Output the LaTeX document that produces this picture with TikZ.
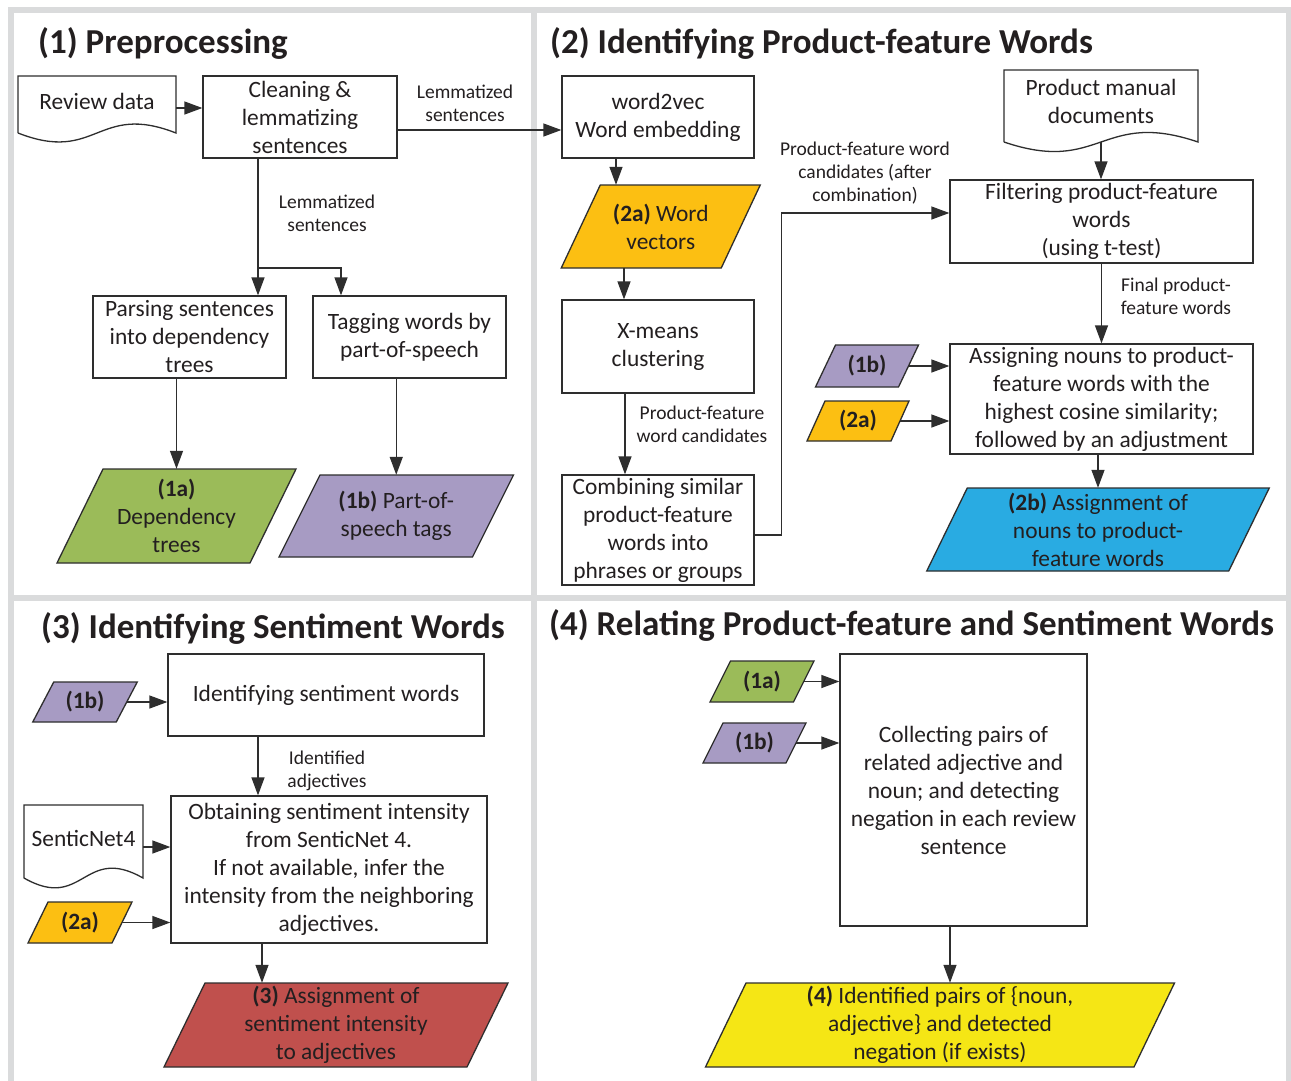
\documentclass[tikz,border=0pt]{standalone}
\usepackage{fontspec}
\setmainfont{Carlito}
\usetikzlibrary{arrows.meta,calc}

\definecolor{txt}{HTML}{231F20}
\definecolor{edge}{HTML}{2E2E2E}
\definecolor{frame}{HTML}{DADBDC}
\definecolor{cgreen}{HTML}{9BBB59}
\definecolor{cpurple}{HTML}{A79BC3}
\definecolor{cgold}{HTML}{FCBF12}
\definecolor{cblue}{HTML}{29ABE2}
\definecolor{cred}{HTML}{C0504D}
\definecolor{cyellow}{HTML}{F5E615}

\tikzset{
  procbox/.style={draw=edge, line width=1.3pt, fill=white, align=center, inner sep=0pt,
    font=\fontsize{23.4}{28}\selectfont, text=txt},
  ptext/.style={align=center, inner sep=0pt, font=\fontsize{23.4}{28}\selectfont, text=txt},
  lbl/.style={align=center, inner sep=0pt, font=\fontsize{19.5}{23}\selectfont, text=txt},
  conn/.style={draw=edge, line width=1.3pt},
  arr/.style={conn, -{Triangle[length=18pt,width=13pt]}},
  panel/.style={draw=frame, line width=6pt},
  ttl/.style={anchor=base west, inner sep=0pt, font=\fontsize{35}{40}\selectfont\bfseries, text=txt},
}

% process box: name, centre x, centre y, width, height, text
\newcommand{\pbox}[6]{%
  \node[procbox, minimum width=#4, minimum height=#5] (#1) at (#2,#3) {#6};}
% data parallelogram: name, cx, cy, edge width, height, slant, fill, text
\newcommand{\pgram}[8]{%
  \filldraw[fill=#7, draw=edge, line width=1.3pt, line join=miter]
    ({#2-#4/2+#6/2},{#3-#5/2}) -- ({#2+#4/2+#6/2},{#3-#5/2}) --
    ({#2+#4/2-#6/2},{#3+#5/2}) -- ({#2-#4/2-#6/2},{#3+#5/2}) -- cycle;
  \node[ptext, minimum width=#4, minimum height=#5] (#1) at (#2,#3) {#8};}
% document shape: name, left, top, right, bottom, wave control, text centre y, text
\newcommand{\docshape}[8]{%
  \filldraw[fill=white, draw=edge, line width=1.3pt]
    (#2,#5) -- (#2,#3) -- (#4,#3) -- (#4,#5)
    .. controls ({(#2+#4)/2},{#5-#6}) and ({(#2+#4)/2},{#5+#6}) .. (#2,#5);
  \node[inner sep=0pt, minimum width={#4-#2}, minimum height={#5-#3}] (#1)
    at ({(#2+#4)/2},{(#3+#5)/2}) {};
  \node[ptext] (#1-text) at ({(#2+#4)/2},#7) {#8};}

\begin{document}
\begin{tikzpicture}[x=1pt,y=-1pt]
\useasboundingbox (0,0) rectangle (1291,1080);
\fill[white] (0,0) rectangle (1291,1080);

% panel frames
\draw[panel] (11,9.5) rectangle (534,598);
\draw[panel] (534,9.5) rectangle (1288.5,598);
\draw[panel] (11,598) rectangle (534,1095);
\draw[panel] (534,598) rectangle (1288.5,1095);

% titles
\node[ttl] (t1) at (38,53) {(1) Preprocessing};
\node[ttl] (t2) at (550,53) {(2) Identifying Product-feature Words};
\node[ttl] (t3) at (41,638) {(3) Identifying Sentiment Words};
\node[ttl] (t4) at (549,635) {(4) Relating Product-feature and Sentiment Words};

% ---------- (1) Preprocessing ----------
\docshape{rd}{18}{76}{176}{133}{31}{101}{Review data}
\pbox{clean}{300}{117}{194}{82}{Cleaning \&\\lemmatizing\\sentences}
\pbox{parse}{189.5}{337}{193}{82}{Parsing sentences\\into dependency\\trees}
\pbox{tag}{409.5}{337}{193}{82}{Tagging words by\\part-of-speech}
\pgram{p1a}{176.5}{516}{193}{94}{46}{cgreen}{\textbf{(1a)}\\Dependency\\trees}
\pgram{p1b}{396.25}{516}{193.5}{82}{41}{cpurple}{\textbf{(1b)} Part-of-\\speech tags}

\draw[arr] ([yshift=-3.5pt]rd.east) -- ([yshift=-3.5pt]rd.east -| clean.west);
\coordinate (split) at (258,268);
\coordinate (splitR) at (341,268);
\draw[conn] (clean.south -| split) -- (split);
\draw[arr] (split) -- (split |- parse.north);
\draw[arr] (split) -- (splitR) -- (splitR |- tag.north);
\node[lbl] (l1b) at (327,213.5) {Lemmatized\\sentences};
\draw[arr] (p1a.north |- parse.south) -- (p1a.north);
\draw[arr] (p1b.north |- tag.south) -- (p1b.north);

% ---------- (2) Product-feature words ----------
\pbox{w2v}{658}{117}{192}{82}{word2vec\\Word embedding}
\pgram{p2a}{660.75}{226.5}{160}{83}{39}{cgold}{\textbf{(2a)} Word\\vectors}
\pbox{xm}{658}{346.5}{192}{93}{X-means\\clustering}
\pbox{comb}{658}{530}{192}{110}{Combining similar\\product-feature\\words into\\phrases or groups}
\docshape{pm}{1004}{70}{1198}{142}{33}{101}{Product manual\\documents}
\pbox{filter}{1101.5}{221.5}{303}{83}{Filtering product-feature\\words\\(using t-test)}
\pbox{assign}{1101.5}{399}{303}{110}{Assigning nouns to product-\\feature words with the\\highest cosine similarity;\\followed by an adjustment}
\pgram{s1b2}{867}{366}{83}{42}{20}{cpurple}{\textbf{(1b)}}
\pgram{s2a2}{858}{421}{84}{40}{18}{cgold}{\textbf{(2a)}}
\pgram{p2b}{1098}{529.5}{302}{83}{40.5}{cblue}{\textbf{(2b)} Assignment of\\nouns to product-\\feature words}

\draw[arr] ([yshift=-13pt]clean.east) -- ([yshift=-13pt]w2v.west);
\node[lbl] (l1a) at (465,103.5) {Lemmatized\\sentences};
\draw[arr] ([xshift=-42pt]w2v.south) -- ([xshift=-42pt]w2v.south |- p2a.north);
\draw[arr] ([xshift=-34pt]xm.north |- p2a.south) -- ([xshift=-34pt]xm.north);
\draw[arr] ([xshift=-33pt]xm.south) -- ([xshift=-33pt]xm.south |- comb.north);
\node[lbl] (l2a) at (702,424.5) {Product-feature\\word candidates};
\draw[arr] ([yshift=-5pt]comb.east) -- ++(27,0) |- ([yshift=8.5pt]filter.west);
\node[lbl] (l2b) at (865,173) {Product-feature word\\candidates (after\\combination)};
\draw[arr] (pm.south) -- (pm.south |- filter.north);
\draw[arr] (filter.south) -- (assign.north);
\node[lbl] (l2c) at (1176,296.5) {Final product-\\feature words};
\draw[arr] (s1b2.east) -- (s1b2.east -| assign.west);
\draw[arr] (s2a2.east) -- (s2a2.east -| assign.west);
\draw[arr] (p2b.north |- assign.south) -- (p2b.north);

% ---------- (3) Sentiment words ----------
\pbox{ident}{326}{695}{316}{82}{Identifying sentiment words}
\pbox{obtain}{329}{869.5}{316}{147}{Obtaining sentiment intensity\\from SenticNet 4.\\If not available, infer the\\intensity from the neighboring\\adjectives.}
\pgram{s1b3}{85}{702}{83.5}{40}{21}{cpurple}{\textbf{(1b)}}
\docshape{sn}{24}{805}{143}{878}{34}{838}{SenticNet4}
\pgram{s2a3}{80}{922.5}{84}{41}{20}{cgold}{\textbf{(2a)}}
\pgram{p3}{336}{1025}{303}{84}{41}{cred}{\textbf{(3)} Assignment of\\sentiment intensity\\to adjectives}

\draw[arr] (s1b3.east) -- (s1b3.east -| ident.west);
\draw[arr] ([xshift=-68pt]ident.south) -- ([xshift=-68pt]ident.south |- obtain.north);
\node[lbl] (l3) at (327,770.5) {Identified\\adjectives};
\draw[arr] ([yshift=-5.5pt]sn.east) -- ([yshift=-5.5pt]sn.east -| obtain.west);
\draw[arr] (s2a3.east) -- (s2a3.east -| obtain.west);
\draw[arr] ([xshift=-67pt]obtain.south) -- ([xshift=-67pt]obtain.south |- p3.north);

% ---------- (4) Relating words ----------
\pbox{coll}{963.5}{790}{247}{272}{Collecting pairs of\\related adjective and\\noun; and detecting\\negation in each review\\sentence}
\pgram{s1a4}{762}{681.5}{83.5}{41}{20.5}{cgreen}{\textbf{(1a)}}
\pgram{s1b4}{754.5}{743}{83}{40}{20}{cpurple}{\textbf{(1b)}}
\pgram{p4}{940}{1025}{428.5}{84}{40.5}{cyellow}{\textbf{(4)} Identified pairs of \{noun,\\adjective\} and detected\\negation (if exists)}

\draw[arr] (s1a4.east) -- (s1a4.east -| coll.west);
\draw[arr] (s1b4.east) -- (s1b4.east -| coll.west);
\draw[arr] ([xshift=-13.5pt]coll.south) -- ([xshift=-13.5pt]coll.south |- p4.north);
\end{tikzpicture}
\end{document}
